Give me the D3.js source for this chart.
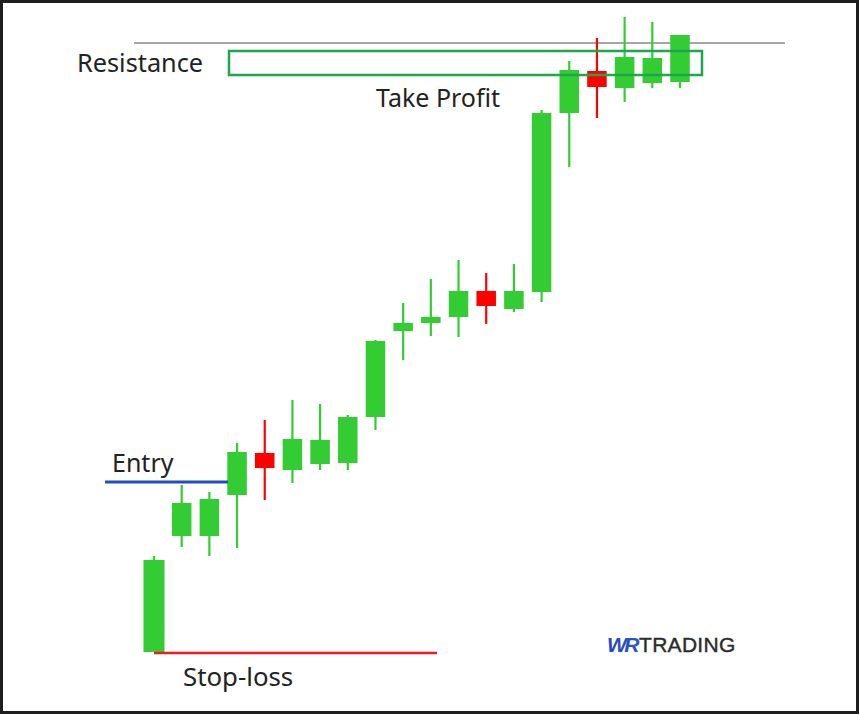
<!DOCTYPE html>
<html>
<head>
<meta charset="utf-8">
<script src="https://cdn.jsdelivr.net/npm/d3@7"></script>
<style>
  html, body { margin: 0; padding: 0; background: #fff; }
  svg { display: block; }
</style>
</head>
<body>
<svg id="chart" width="860" height="715"></svg>
<script>
// ---- data ----
const candleIds = d3.range(1, 21);
const opens  = [4.8, 16.4, 16.4, 20.5, 24.7, 23.0, 23.6, 23.7, 28.3, 36.9, 37.7, 38.3, 40.9, 39.1, 40.8, 58.7, 62.9, 61.2, 61.7, 61.8];
const closes = [14.0, 19.7, 20.1, 24.8, 23.2, 26.1, 26.0, 28.3, 35.9, 37.7, 38.3, 40.9, 39.4, 40.9, 58.7, 63.0, 61.3, 64.3, 64.2, 66.5];
const highs  = [14.4, 21.5, 20.8, 25.7, 28.0, 30.0, 29.6, 28.5, 36.0, 39.7, 42.1, 44.0, 42.7, 43.6, 59.0, 63.9, 66.2, 68.3, 67.8, 66.5];
const lows   = [4.8, 15.3, 14.4, 15.2, 20.0, 21.7, 23.0, 23.0, 27.0, 34.0, 36.4, 36.3, 37.6, 38.8, 39.8, 53.3, 58.2, 59.8, 61.2, 61.2];

const entryLevel = 21.8;
const stopLevel = 4.7;
const resistanceLow = 62.5;
const resistanceHigh = 64.9;
const topLine = 65.7;

const labels = { resistance: "Resistance", takeProfit: "Take Profit", entry: "Entry", stop: "Stop-loss" };
const logoParts = ["WR", "TRADING"];

// ---- scales ----
const svg = d3.select("#chart");
const y = d3.scaleLinear().domain([0, 70]).range([700, 0]);
const x = d3.scalePoint().domain(candleIds).range([154, 680]);
const bodyW = 19.5;

const GREEN = "#33cc33", RED = "#ff0000";

// border
svg.append("rect").attr("x", 1.5).attr("y", 1.5).attr("width", 856).attr("height", 711)
  .attr("fill", "#fff").attr("stroke", "#1e1e1e").attr("stroke-width", 3);

// gray top line
svg.append("line").attr("x1", 134).attr("x2", 785).attr("y1", y(topLine)).attr("y2", y(topLine))
  .attr("stroke", "#8a8a8a").attr("stroke-width", 1.3);

const candles = candleIds.map((id, i) => ({ id, o: opens[i], c: closes[i], h: highs[i], l: lows[i] }));

const g = svg.append("g");
const cg = g.selectAll("g.candle").data(candles).enter().append("g");
cg.append("line")
  .attr("x1", d => x(d.id)).attr("x2", d => x(d.id))
  .attr("y1", d => y(d.h)).attr("y2", d => y(d.l))
  .attr("stroke", d => d.c >= d.o ? GREEN : RED).attr("stroke-width", 2.2);
cg.append("rect")
  .attr("x", (d, i) => x(d.id) - (i === 0 ? 21 : bodyW) / 2)
  .attr("width", (d, i) => i === 0 ? 21 : bodyW)
  .attr("y", d => y(Math.max(d.o, d.c)))
  .attr("height", d => Math.max(1, Math.abs(y(d.o) - y(d.c))))
  .attr("fill", d => d.c >= d.o ? GREEN : RED);

// resistance box
const boxLeft = 229, boxRight = 702;
svg.append("rect")
  .attr("x", boxLeft).attr("y", y(resistanceHigh))
  .attr("width", boxRight - boxLeft).attr("height", y(resistanceLow) - y(resistanceHigh))
  .attr("fill", "none").attr("stroke", "#1fa64a").attr("stroke-width", 2.5);

// entry line
svg.append("line").attr("x1", 105).attr("x2", 228)
  .attr("y1", y(entryLevel)).attr("y2", y(entryLevel))
  .attr("stroke", "#2050c0").attr("stroke-width", 3);

// stop-loss line
svg.append("line").attr("x1", x(1)).attr("x2", 437)
  .attr("y1", y(stopLevel)).attr("y2", y(stopLevel))
  .attr("stroke", "#ee1c1c").attr("stroke-width", 2.6);

// labels
const font = "'Noto Sans', 'Open Sans', sans-serif";
function label(t, lx, ly, fs) {
  svg.append("text").attr("x", lx).attr("y", ly).text(t)
    .attr("font-family", font).attr("font-size", fs).attr("fill", "#222");
}
label(labels.resistance, 77, 72, 25.3);
label(labels.takeProfit, 376, 107, 25);
label(labels.entry, 112, 472, 25);
label(labels.stop, 183, 686, 25.8);

// logo
const defs = svg.append("defs");
const grad = defs.append("linearGradient").attr("id", "wrg").attr("x1", "0").attr("x2", "1");
grad.append("stop").attr("offset", "0").attr("stop-color", "#2348b8");
grad.append("stop").attr("offset", "1").attr("stop-color", "#4a86dc");
const logo = svg.append("text").attr("x", 607).attr("y", 652)
  .attr("font-family", "'Liberation Sans', Arial, sans-serif").attr("font-size", 21);
logo.append("tspan").text(logoParts[0])
  .attr("font-weight", "bold").attr("font-style", "italic")
  .attr("letter-spacing", -2.5)
  .attr("fill", "url(#wrg)");
logo.append("tspan").text(logoParts[1]).attr("dx", 2)
  .attr("letter-spacing", 0.3)
  .attr("fill", "#2b2b2b").attr("stroke", "#2b2b2b").attr("stroke-width", 0.4);
</script>
</body>
</html>
